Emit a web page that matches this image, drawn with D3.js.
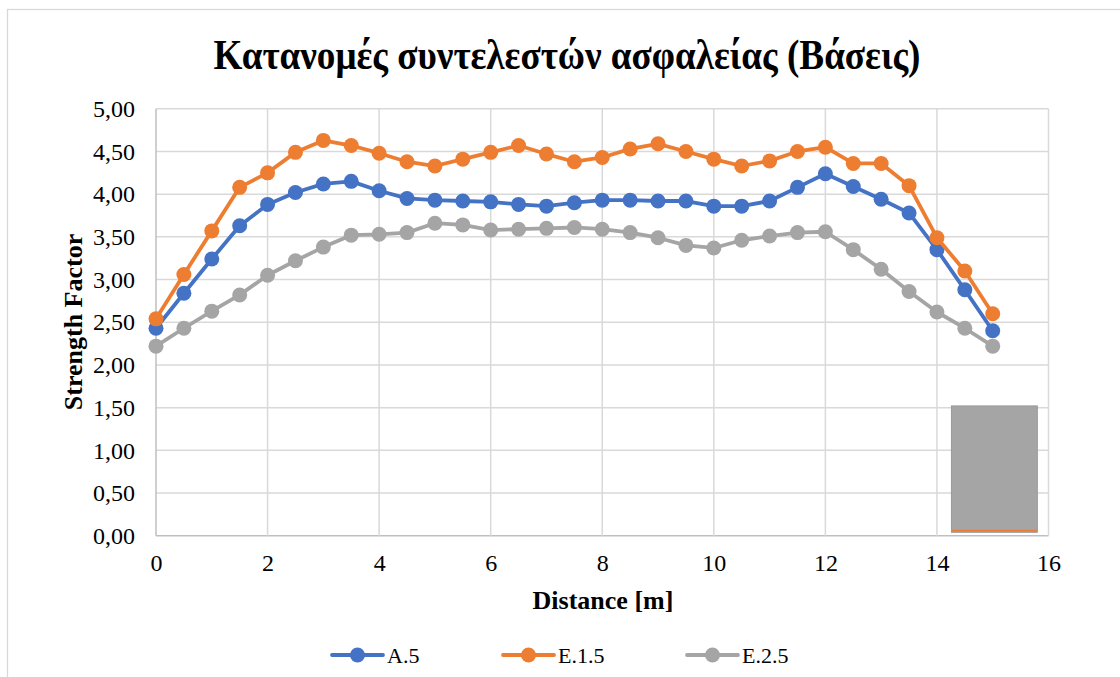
<!DOCTYPE html>
<html>
<head>
<meta charset="utf-8">
<script src="https://cdn.jsdelivr.net/npm/d3@7"></script>
<style>
  html, body { margin: 0; padding: 0; background: #fff; }
  svg { display: block; }
  text { font-family: "Times New Roman", "Liberation Serif", serif; fill: #000; }
</style>
</head>
<body>
<svg id="chart" width="1120" height="677"></svg>
<script>
const distances = [0,0.5,1,1.5,2,2.5,3,3.5,4,4.5,5,5.5,6,6.5,7,7.5,8,8.5,9,9.5,10,10.5,11,11.5,12,12.5,13,13.5,14,14.5,15];
const seriesNames = ["A.5", "E.1.5", "E.2.5"];
const a5 = [2.43,2.84,3.24,3.63,3.88,4.02,4.12,4.15,4.04,3.95,3.93,3.92,3.91,3.88,3.86,3.90,3.93,3.93,3.92,3.92,3.86,3.86,3.92,4.08,4.24,4.09,3.94,3.78,3.35,2.88,2.40];
const e15 = [2.54,3.06,3.57,4.08,4.25,4.49,4.63,4.57,4.48,4.38,4.33,4.41,4.49,4.57,4.47,4.38,4.43,4.53,4.59,4.50,4.41,4.33,4.39,4.50,4.55,4.36,4.36,4.10,3.49,3.10,2.60];
const e25 = [2.22,2.43,2.63,2.82,3.05,3.22,3.38,3.52,3.53,3.55,3.66,3.64,3.58,3.59,3.60,3.61,3.59,3.55,3.49,3.40,3.37,3.46,3.51,3.55,3.56,3.35,3.12,2.86,2.62,2.43,2.22];
const xTicks = [0,2,4,6,8,10,12,14,16];
const yTicks = [0,0.5,1,1.5,2,2.5,3,3.5,4,4.5,5];
const boxShape = [{x0: 14.26, x1: 15.80, y0: 0.04, y1: 1.52}];
const titleText = "Κατανομές συντελεστών ασφαλείας (Βάσεις)";
const xTitle = "Distance [m]";
const yTitle = "Strength Factor";
const colors = ["#4472c4", "#ed7d31", "#a5a5a5"];

const svg = d3.select("#chart");
const x = d3.scaleLinear().domain([0, 16]).range([156, 1048.5]);
const y = d3.scaleLinear().domain([0, 5]).range([535.7, 108.8]);
const fmt = v => d3.format(".2f")(v).replace(".", ",");
const FONT = "'Times New Roman','Liberation Serif',serif";

// chart frame
svg.append("rect").attr("x", 7.5).attr("y", 9.5).attr("width", 1130).attr("height", 700)
  .attr("fill", "#fff").attr("stroke", "#d9d9d9").attr("stroke-width", 1.3);

// title
svg.append("text").attr("x", 567).attr("y", 69).attr("text-anchor", "middle")
  .attr("font-size", 42).attr("font-weight", "bold").text(titleText)
  .attr("textLength", 707).attr("lengthAdjust", "spacingAndGlyphs");

// gridlines
const g = svg.append("g");
g.selectAll(".hg").data(yTicks).enter().append("line")
  .attr("x1", x(0)).attr("x2", x(16)).attr("y1", d => y(d)).attr("y2", d => y(d))
  .attr("stroke", d => d === 0 ? "#bfbfbf" : "#d9d9d9").attr("stroke-width", 1.5);
g.selectAll(".vg").data(xTicks).enter().append("line")
  .attr("y1", y(0)).attr("y2", y(5)).attr("x1", d => x(d)).attr("x2", d => x(d))
  .attr("stroke", d => d === 0 ? "#bfbfbf" : "#d9d9d9").attr("stroke-width", 1.5);

// axes labels via d3 axes
const yAxis = svg.append("g").attr("transform", `translate(${x(0)},0)`)
  .call(d3.axisLeft(y).tickValues(yTicks).tickFormat(fmt).tickSize(0).tickPadding(21));
yAxis.select(".domain").remove();
yAxis.selectAll("text").attr("font-size", 24).attr("font-family", FONT).attr("fill", "#000");

const xAxis = svg.append("g").attr("transform", `translate(0,${y(0)})`)
  .call(d3.axisBottom(x).tickValues(xTicks).tickFormat(d3.format("d")).tickSize(0).tickPadding(18));
xAxis.select(".domain").remove();
xAxis.selectAll("text").attr("font-size", 24).attr("font-family", FONT).attr("fill", "#000");

// axis titles
svg.append("text").attr("x", 603).attr("y", 609).attr("text-anchor", "middle")
  .attr("font-size", 26).attr("font-weight", "bold").text(xTitle);
svg.append("text").attr("transform", "translate(82,322) rotate(-90)").attr("text-anchor", "middle")
  .attr("font-size", 26).attr("font-weight", "bold").text(yTitle);

// box shape
svg.selectAll(".box").data(boxShape).enter().append("rect")
  .attr("x", d => x(d.x0)).attr("y", d => y(d.y1))
  .attr("width", d => x(d.x1) - x(d.x0)).attr("height", d => y(d.y0) - y(d.y1))
  .attr("fill", "#a5a5a5").attr("stroke", "#9a9a9a").attr("stroke-width", 1);
svg.selectAll(".boxline").data(boxShape).enter().append("line")
  .attr("x1", d => x(d.x0) + 0.5).attr("x2", d => x(d.x1) - 0.5)
  .attr("y1", d => y(d.y0) - 1.5).attr("y2", d => y(d.y0) - 1.5)
  .attr("stroke", "#ed7d31").attr("stroke-width", 2);

// series
const allSeries = [a5, e15, e25];
const line = d3.line().x((d, i) => x(distances[i])).y(d => y(d));
allSeries.forEach((vals, si) => {
  const sg = svg.append("g");
  sg.append("path").datum(vals).attr("d", line).attr("fill", "none")
    .attr("stroke", colors[si]).attr("stroke-width", 3.8).attr("stroke-linejoin", "round");
  sg.selectAll("circle").data(vals).enter().append("circle")
    .attr("cx", (d, i) => x(distances[i])).attr("cy", d => y(d)).attr("r", 7.5)
    .attr("fill", colors[si]);
});

// legend
const legendX = [332, 503, 687];
const lg = svg.append("g");
seriesNames.forEach((name, i) => {
  const lx = legendX[i], ly = 655;
  lg.append("line").attr("x1", lx).attr("x2", lx + 51).attr("y1", ly).attr("y2", ly)
    .attr("stroke", colors[i]).attr("stroke-width", 3.8).attr("stroke-linecap", "round");
  lg.append("circle").attr("cx", lx + 25.5).attr("cy", ly).attr("r", 7.5).attr("fill", colors[i]);
  lg.append("text").attr("x", lx + 55).attr("y", ly + 8).attr("font-size", 22).text(name);
});
</script>
</body>
</html>
